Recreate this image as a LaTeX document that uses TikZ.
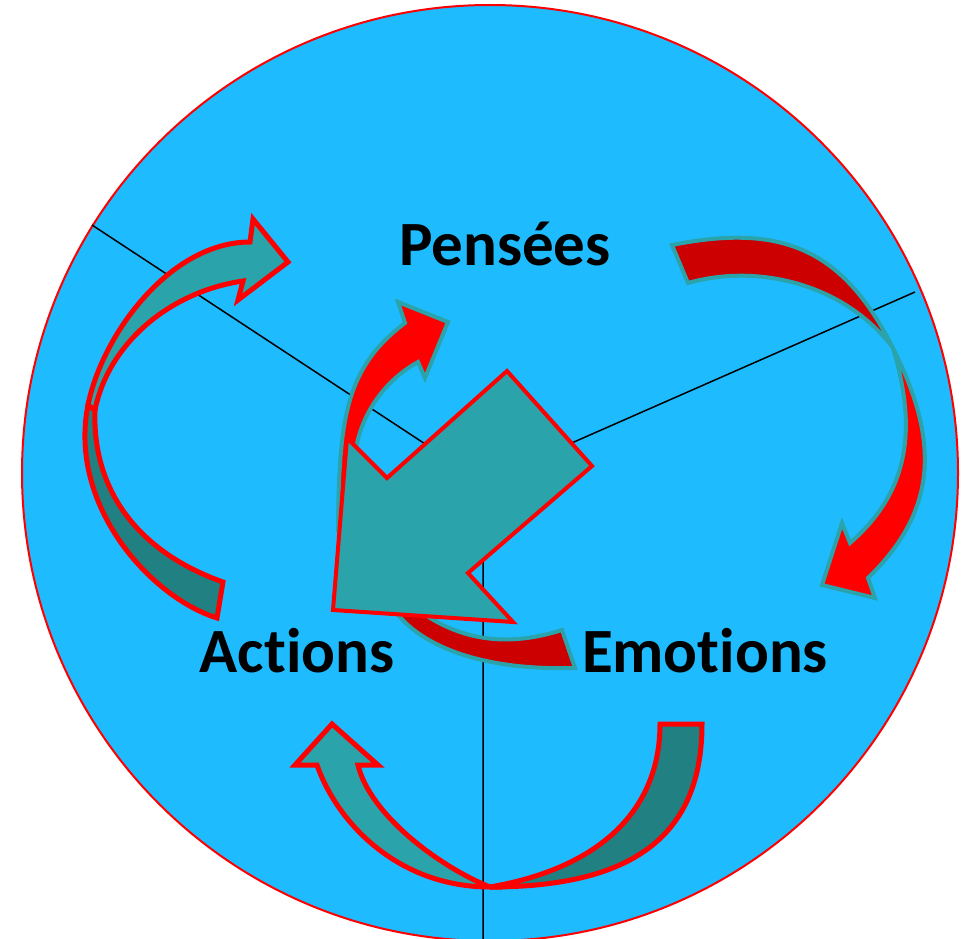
\documentclass[tikz,border=0pt]{standalone}
\usepackage{fontspec}
\setmainfont{Carlito}[Ligatures=CommonOff]
\definecolor{discblue}{HTML}{1FBBFF}
\definecolor{tealface}{HTML}{2AA3AA}
\definecolor{tealback}{HTML}{208082}
\definecolor{ribbonred}{HTML}{FF0000}
\definecolor{ribbondark}{HTML}{CC0000}

\begin{document}
\begin{tikzpicture}[x=1pt, y=-1pt,
    band/.style={draw=red, line width=5pt, fill=tealface},
    bandback/.style={band, fill=tealback},
    ribbon/.style={draw=tealface, line width=4pt, fill=ribbonred},
    ribbonback/.style={ribbon, fill=ribbondark},
    divider/.style={line width=1.5pt},
    word/.style={font=\bfseries\fontsize{63}{70}\selectfont, anchor=base, inner sep=0pt}]
  \useasboundingbox (0,0) rectangle (967,939);
  % the disc and its three sectors
  \filldraw[fill=discblue, draw=red, line width=2pt] (490,473) circle[radius=468];
  \coordinate (hub) at (483,482);
  \coordinate (nw) at (92,225);
  \coordinate (ne) at (915,292);
  \coordinate (south) at (483,939);
  \draw[divider] (hub) -- (nw) (hub) -- (ne) (hub) -- (south);
  % left arrow, Actions -> Pensees (back face, then front face)
  \filldraw[bandback] (217,618) .. controls (150,597) and (68,505) .. (88,405)
    -- (95,410) .. controls (92,490) and (138,552) .. (223,582) -- cycle;
  \filldraw[band] (88,405) .. controls (102,335) and (170,242) .. (250,242)
    -- (253,219) -- (288,262) -- (238,300) -- (243,281)
    .. controls (168,292) and (108,345) .. (95,410) -- cycle;
  % bottom arrow, Emotions -> Actions
  \filldraw[bandback] (490,887) .. controls (634,887) and (702,835) .. (702,724)
    -- (660,724) .. controls (660,810) and (600,868) .. (490,887) -- cycle;
  \filldraw[band] (490,887) .. controls (400,887) and (338,825) .. (317,765)
    -- (295,765) -- (332,724) -- (378,765) -- (358,765)
    .. controls (370,815) and (440,867) .. (490,887) -- cycle;
  % right arrow, Pensees -> Emotions
  \filldraw[ribbonback] (672,245) .. controls (782,223) and (843,249) .. (893,348)
    .. controls (845,284) and (758,263) .. (688,283) -- cycle;
  \filldraw[ribbon] (893,348) .. controls (938,438) and (940,508) .. (868,578)
    -- (875,598) -- (822,585) -- (842,523) -- (850,543)
    .. controls (910,491) and (917,428) .. (893,348) -- cycle;
  % centre arrow, Emotions -> Pensees, running behind the big one
  \filldraw[ribbonback] (395,590) .. controls (444,639) and (500,650) .. (562,630)
    -- (575,668) .. controls (470,671) and (420,640) .. (400,617) -- (370,585) -- cycle;
  \filldraw[ribbon] (338,530) .. controls (339,420) and (345,368) .. (405,323)
    -- (398,302) -- (448,322) -- (425,378) -- (418,362)
    .. controls (373,387) and (348,437) .. (355,488) -- (352,530) -- cycle;
  % the big arrow
  \filldraw[fill=tealface, draw=red, line width=4pt]
    (507,371) -- (592,466) -- (468,573) -- (513,622) -- (333,610) -- (347,438) -- (387,478) -- cycle;
  % the three words
  \node[word] (pensees) at (505,265) {Pensées};
  \node[word] (actions) at (297,672) {Actions};
  \node[word] (emotions) at (705,672) {Emotions};
\end{tikzpicture}
\end{document}
